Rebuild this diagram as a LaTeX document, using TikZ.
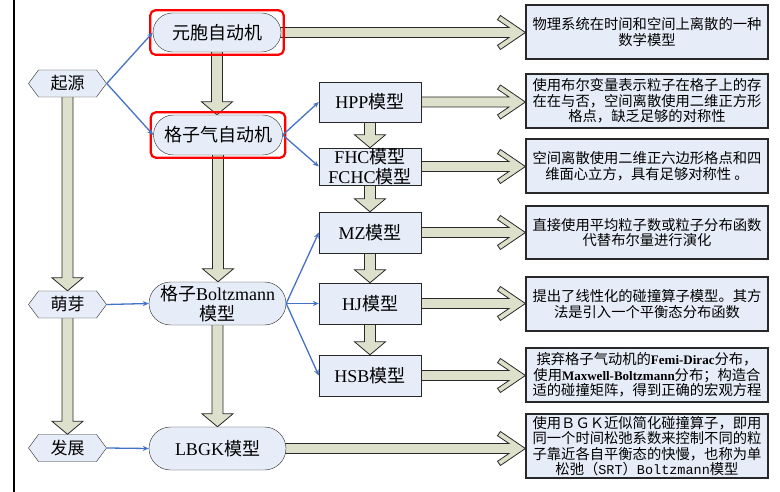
\documentclass[tikz,border=0pt]{standalone}
\usepackage{fontspec}
\setmainfont{Liberation Serif}
\newfontfamily\cjk{Noto Sans CJK SC}
\newfontfamily\monofam{Liberation Mono}
\usetikzlibrary{shapes.misc,shapes.symbols,arrows.meta,calc,fit}

\definecolor{nodefill}{RGB}{231,237,248}
\definecolor{arrowfill}{RGB}{221,225,204}
\definecolor{linkblue}{RGB}{68,114,196}
\definecolor{edgegray}{RGB}{40,40,40}

\pgfdeclarelayer{back}
\pgfsetlayers{back,main}

\tikzset{
  stage/.style={signal, signal to=west and east, signal pointer angle=107,
    draw=edgegray, fill=nodefill, minimum width=78pt, minimum height=27pt,
    inner sep=0pt, font=\cjk\fontsize{17}{19}\selectfont},
  stadium/.style={rounded rectangle, draw=edgegray, fill=nodefill,
    inner sep=0pt, align=center, font=\fontsize{18}{20.5}\selectfont},
  model/.style={rectangle, draw=edgegray, fill=nodefill, minimum width=102pt,
    minimum height=41pt, inner sep=0pt, align=center,
    font=\fontsize{18}{19.5}\selectfont},
  note/.style={rectangle, draw=edgegray, line width=1.2pt, fill=nodefill,
    minimum width=242pt, minimum height=54pt, inner sep=0pt, align=center,
    font=\cjk\fontsize{14.3}{15.5}\selectfont},
  redframe/.style={draw=red, line width=2.2pt, rounded corners=5pt, inner sep=2.5pt},
  link/.style={draw=linkblue, line width=1.3pt, -{Stealth[length=6pt,width=5pt]}},
  bigarrow/.style={draw=edgegray, fill=arrowfill, line width=0.8pt, line join=miter}
}

% bold serif words inside the descriptions
\newcommand\latinbold[1]{{\rmfamily\bfseries\fontsize{13}{15}\selectfont #1}}

% thick horizontal arrow with an open chevron head, from #1 to #2
\newcommand\hblock[2]{%
  \draw[bigarrow] let \p1=(#1.east), \p2=(#2.west) in
    (\x1-3pt,\y1+5pt) -- (\x2-16.4pt,\y1+5pt) -- (\x2-27.9pt,\y1+12.8pt)
    -- (\x2-25pt,\y1+17pt) -- (\x2,\y1) -- (\x2-25pt,\y1-17pt)
    -- (\x2-27.9pt,\y1-12.8pt) -- (\x2-16.4pt,\y1-5pt) -- (\x1-3pt,\y1-5pt) -- cycle;}
% thick downward block arrow from #1 to #2
\newcommand\vblock[2]{%
  \draw[bigarrow] let \p1=(#1.south), \p2=(#2.north) in
    (\x1-5.5pt,\y1+3pt) -- (\x1-5.5pt,\y2+13pt) -- (\x1-15.5pt,\y2+13pt)
    -- (\x1,\y2) -- (\x1+15.5pt,\y2+13pt) -- (\x1+5.5pt,\y2+13pt)
    -- (\x1+5.5pt,\y1+3pt) -- cycle;}

\begin{document}
\begin{tikzpicture}[x=1pt,y=-1pt]
\useasboundingbox (0,0) rectangle (780,492);

% frame edge on the left
\draw[line width=2pt] (13.5,0) -- (13.5,492);

% stages
\node[stage] (origin) at (67.5,83.5) {起源};
\node[stage] (sprout) at (67.5,304.5) {萌芽};
\node[stage] (growth) at (67.5,448) {发展};

% main models
\node[stadium, minimum width=128pt, minimum height=39pt] (ca) at (217,32.5) {{\cjk 元胞自动机}};
\node[stadium, minimum width=129pt, minimum height=40pt] (lgca) at (218,135) {{\cjk 格子气自动机}};
\node[stadium, minimum width=137pt, minimum height=43pt] (lbm) at (217.5,303.5) {{\cjk 格子}Boltzmann\\{\cjk 模型}};
\node[stadium, minimum width=137pt, minimum height=43pt] (lbgk) at (217.5,448.5) {LBGK{\cjk 模型}};

% lattice models
\node[model, minimum height=40pt] (hpp) at (370,102) {HPP{\cjk 模型}};
\node[model, minimum height=37pt] (fhc) at (370,166.5) {FHC{\cjk 模型}\\FCHC{\cjk 模型}};
\node[model] (mz) at (370,232.5) {MZ{\cjk 模型}};
\node[model] (hj) at (370,303.5) {HJ{\cjk 模型}};
\node[model] (hsb) at (370,375.5) {HSB{\cjk 模型}};

% descriptions
\node[note] (d1) at (647,32) {物理系统在时间和空间上离散的一种\\数学模型};
\node[note] (d2) at (647,101) {使用布尔变量表示粒子在格子上的存\\在在与否，空间离散使用二维正方形\\格点，缺乏足够的对称性};
\node[note] (d3) at (647,166) {空间离散使用二维正六边形格点和四\\维面心立方，具有足够对称性 。};
\node[note, minimum height=53pt] (d4) at (647,232.5) {直接使用平均粒子数或粒子分布函数\\代替布尔量进行演化};
\node[note] (d5) at (647,304) {提出了线性化的碰撞算子模型。其方\\法是引入一个平衡态分布函数};
\node[note] (d6) at (647,375) {摈弃格子气动机的\latinbold{Femi-Dirac}分布，\\使用\latinbold{Maxwell-Boltzmann}分布；构造合\\适的碰撞矩阵，得到正确的宏观方程};
\node[note, minimum height=64pt] (d7) at (647,446) {使用ＢＧＫ近似简化碰撞算子，即用\\同一个时间松弛系数来控制不同的粒\\子靠近各自平衡态的快慢，也称为单\\松弛（{\monofam\fontsize{13.5}{15}\selectfont SRT}）{\monofam\fontsize{13.5}{15}\selectfont Boltzmann}模型};

% highlight frames
\node[redframe, fit=(ca)] (caframe) {};
\node[redframe, fit=(lgca)] (lgcaframe) {};

% block arrows behind the nodes
\begin{pgfonlayer}{back}
  \vblock{origin}{sprout}
  \vblock{sprout}{growth}
  \vblock{ca}{lgca}
  \vblock{lgca}{lbm}
  \vblock{lbm}{lbgk}
  \vblock{hpp}{fhc}
  \vblock{fhc}{mz}
  \vblock{mz}{hj}
  \vblock{hj}{hsb}
  \hblock{ca}{d1}
  \hblock{hpp}{d2}
  \hblock{fhc}{d3}
  \hblock{mz}{d4}
  \hblock{hj}{d5}
  \hblock{hsb}{d6}
  \hblock{lbgk}{d7}
\end{pgfonlayer}

% thin links
\draw[link] (origin.east) -- (ca.west);
\draw[link] (origin.east) -- (lgca.west);
\draw[link] (lgca.east) -- (hpp.west);
\draw[link] (lgca.east) -- (fhc.west);
\draw[link] (lbm.east) -- (mz.west);
\draw[link] (lbm.east) -- (hj.west);
\draw[link] (lbm.east) -- (hsb.west);
\draw[link] (sprout.east) -- (lbm.west);
\draw[link] (growth.east) -- (lbgk.west);
\end{tikzpicture}
\end{document}
